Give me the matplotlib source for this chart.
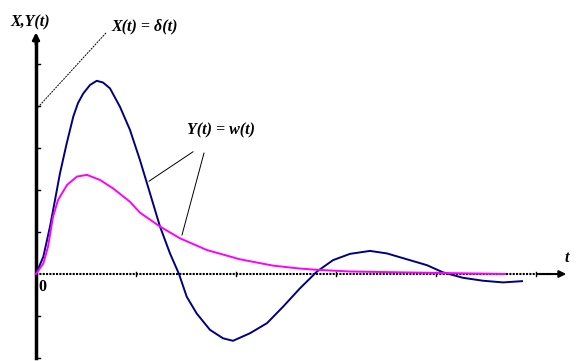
import matplotlib.pyplot as plt

# values (t in tick units, y in tick units)
t_x = [0.0, 0.073, 0.14, 0.19, 0.24, 0.307, 0.373, 0.42, 0.473, 0.54, 0.607, 0.67, 0.74, 0.84, 0.94, 1.04, 1.13,
       1.24, 1.34, 1.43, 1.507, 1.607, 1.74, 1.87, 1.97, 2.14, 2.31, 2.47, 2.64, 2.81,
       2.97, 3.14, 3.34, 3.51, 3.71, 3.91, 4.07, 4.27, 4.47, 4.67, 4.86]
x_vals = [0.0, 0.41, 1.13, 1.76, 2.40, 3.11, 3.75, 4.07, 4.30, 4.50, 4.60, 4.56, 4.42, 3.98, 3.43, 2.71, 2.0,
          1.13, 0.49, 0.0, -0.54, -0.94, -1.33, -1.53, -1.59, -1.41, -1.17, -0.78, -0.34, 0.06,
          0.33, 0.48, 0.55, 0.49, 0.35, 0.21, 0.04, -0.09, -0.16, -0.20, -0.17]

t_y = [0.0, 0.073, 0.12, 0.17, 0.22, 0.31, 0.41, 0.51, 0.64, 0.77, 0.94, 1.04, 1.24, 1.44,
       1.71, 2.04, 2.37, 2.64, 2.81, 3.14, 3.64, 4.17, 4.69]
y_vals = [0.0, 0.25, 0.65, 1.36, 1.76, 2.12, 2.32, 2.36, 2.24, 2.04, 1.72, 1.46, 1.13, 0.85,
          0.57, 0.35, 0.20, 0.13, 0.10, 0.06, 0.04, 0.02, 0.0]

x_ticks = [1, 2, 3, 4, 5]
y_ticks = [-2, -1, 1, 2, 3, 4, 5]

fig = plt.figure(figsize=(5.86, 3.61), dpi=100)
ax = fig.add_axes([0, 0, 1, 1])
ax.set_xlim(-0.36, 5.5)
ax.set_ylim(-2.071, 6.524)
ax.axis('off')

# axes with arrows
ax.plot([0, 0], [-2.0, 5.6], color='black', lw=2.5)
ax.annotate('', xy=(0, 5.82), xytext=(0, 5.4),
            arrowprops=dict(arrowstyle='-|>', color='black', lw=2, mutation_scale=10))
ax.plot([0, 5.15], [0, 0], color='black', lw=1.5, ls=(0, (1, 0.6)))
ax.annotate('', xy=(5.33, 0), xytext=(5.0, 0),
            arrowprops=dict(arrowstyle='-|>', color='black', lw=1.5, mutation_scale=10))
for xt in x_ticks:
    ax.plot([xt, xt], [-0.05, 0.05], color='black', lw=1)
for yt in y_ticks:
    ax.plot([0, 0.04], [yt, yt], color='black', lw=1)

ax.plot(t_x, x_vals, color='#000080', lw=1.4)
ax.plot(t_y, y_vals, color='#ff00ff', lw=1.4)

# leader lines
ax.plot([0.70, 0.02], [5.74, 3.97], color='black', lw=0.7, ls=(0, (2, 1)))
ax.plot([1.57, 1.13], [2.91, 2.21], color='black', lw=0.7)
ax.plot([1.68, 1.46], [2.88, 0.93], color='black', lw=0.7)

font = dict(family='Liberation Serif', weight='bold', style='italic', fontsize=11.5)
ax.text(-0.06, 6.0, 'X,Y(t)', ha='center', va='center', **font)
ax.text(1.09, 5.9, 'X(t) = δ(t)', ha='center', va='center', **font)
ax.text(1.85, 3.43, 'Y(t) = w(t)', ha='center', va='center', **font)
ax.text(5.31, 0.38, 't', ha='center', va='center', **font)
ax.text(0.06, -0.31, '0', ha='center', va='center', family='Liberation Serif',
        weight='bold', fontsize=11.5)

fig.savefig('out.png', dpi=100)
